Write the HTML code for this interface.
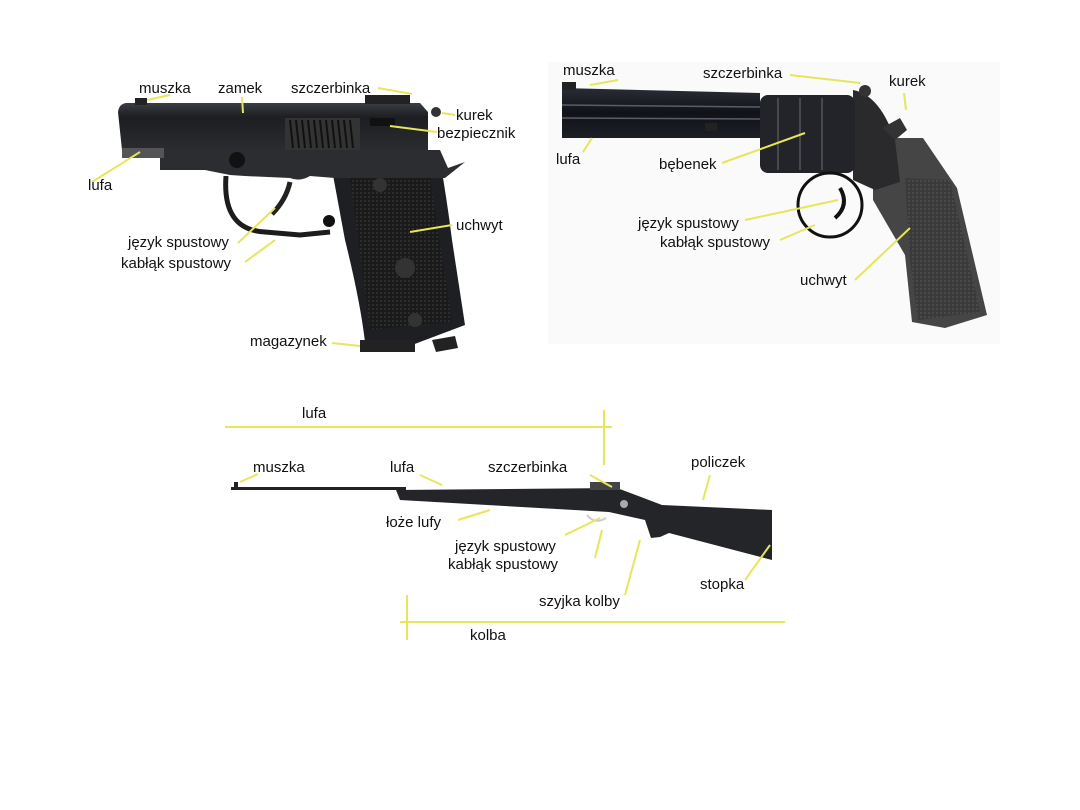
<!DOCTYPE html>
<html><head><meta charset="utf-8"><style>
html,body{margin:0;padding:0;background:#fff;}
svg{display:block}
text{font-family:"Liberation Sans",sans-serif;font-size:15px;fill:#111;}
</style></head><body>
<svg width="1080" height="810" viewBox="0 0 1080 810" xmlns="http://www.w3.org/2000/svg">
<defs>
<linearGradient id="metal" x1="0" y1="0" x2="0" y2="1">
<stop offset="0" stop-color="#3a3d42"/><stop offset="0.3" stop-color="#1c1e22"/><stop offset="1" stop-color="#2a2c30"/></linearGradient>
<linearGradient id="barrel" x1="0" y1="0" x2="0" y2="1">
<stop offset="0" stop-color="#2a2d35"/><stop offset="0.5" stop-color="#101218"/><stop offset="1" stop-color="#1c1f26"/></linearGradient>
<pattern id="chk" width="4" height="4" patternUnits="userSpaceOnUse"><rect width="4" height="4" fill="#1a1a1a"/><rect width="2" height="2" fill="#2c2c2c"/></pattern>
<pattern id="chk2" width="4" height="4" patternUnits="userSpaceOnUse"><rect width="4" height="4" fill="#3a3a3a"/><rect width="2" height="2" fill="#4a4a4a"/></pattern>
</defs>
<rect x="548" y="62" width="452" height="282" fill="#fafafa"/>

<!-- PISTOL -->
<g>
<path d="M335,160 L440,160 Q447,200 452,240 L465,325 L412,345 L365,342 Q360,300 345,240 L333,175 Z" fill="#1e1f22"/>
<path d="M350,178 L430,178 L452,322 L370,330 Z" fill="url(#chk)"/>
<path d="M160,150 L440,150 L448,168 L465,162 L445,178 L335,178 L310,176 Q300,182 290,178 L245,176 L230,175 L205,170 L160,170 Z" fill="#2b2d30"/>
<path d="M126,103 L420,103 L428,112 L428,150 L122,150 L118,112 Q119,104 126,103 Z" fill="url(#metal)"/>
<rect x="122" y="148" width="42" height="10" fill="#555"/>
<rect x="285" y="118" width="75" height="32" fill="#333"/>
<g stroke="#111" stroke-width="2"><line x1="290" y1="120" x2="293" y2="148"/><line x1="296" y1="120" x2="299" y2="148"/><line x1="302" y1="120" x2="305" y2="148"/><line x1="308" y1="120" x2="311" y2="148"/><line x1="314" y1="120" x2="317" y2="148"/><line x1="320" y1="120" x2="323" y2="148"/><line x1="326" y1="120" x2="329" y2="148"/><line x1="332" y1="120" x2="335" y2="148"/><line x1="338" y1="120" x2="341" y2="148"/><line x1="344" y1="120" x2="347" y2="148"/><line x1="350" y1="120" x2="353" y2="148"/></g>
<path d="M226,176 Q222,230 265,232 L300,235 L330,232" stroke="#1c1c1c" stroke-width="5" fill="none"/>
<path d="M290,182 Q286,200 272,214" stroke="#222" stroke-width="5" fill="none"/>
<circle cx="237" cy="160" r="8" fill="#111"/>
<circle cx="329" cy="221" r="6" fill="#111"/>
<circle cx="380" cy="185" r="7" fill="#333"/>
<circle cx="405" cy="268" r="10" fill="#333"/>
<circle cx="415" cy="320" r="7" fill="#333"/>
<rect x="360" y="340" width="55" height="12" fill="#222"/>
<path d="M432,340 L455,336 L458,348 L436,352 Z" fill="#222"/>
<rect x="135" y="98" width="12" height="7" fill="#222"/>
<rect x="365" y="95" width="45" height="9" fill="#222"/>
<rect x="370" y="118" width="25" height="8" fill="#111"/>
<circle cx="436" cy="112" r="5" fill="#333"/>
</g>
<g stroke="#e6e65a" stroke-width="2" fill="none">
<line x1="147" y1="100" x2="170" y2="95"/>
<line x1="242" y1="97" x2="243" y2="113"/>
<line x1="378" y1="88" x2="412" y2="94"/>
<line x1="442" y1="113" x2="455" y2="115"/>
<line x1="390" y1="126" x2="437" y2="132"/>
<line x1="92" y1="182" x2="140" y2="152"/>
<line x1="238" y1="243" x2="275" y2="208"/>
<line x1="245" y1="262" x2="275" y2="240"/>
<line x1="410" y1="232" x2="452" y2="225"/>
<line x1="332" y1="343" x2="360" y2="346"/>
</g>
<text x="139" y="93">muszka</text>
<text x="218" y="93">zamek</text>
<text x="291" y="93">szczerbinka</text>
<text x="456" y="120">kurek</text>
<text x="437" y="138">bezpiecznik</text>
<text x="88" y="190">lufa</text>
<text x="128" y="247">język spustowy</text>
<text x="121" y="268">kabłąk spustowy</text>
<text x="456" y="230">uchwyt</text>
<text x="250" y="346">magazynek</text>

<!-- REVOLVER -->
<g>
<path d="M873,138 L923,138 L957,188 L987,315 L945,328 L912,322 L905,255 L873,200 Z" fill="#454545"/>
<path d="M905,178 L950,180 L980,312 L918,320 L910,260 Z" fill="url(#chk2)"/>
<path d="M853,90 Q880,95 895,140 L900,182 L875,190 L853,180 Z" fill="#2a2a2d"/>
<rect x="760" y="95" width="95" height="78" rx="8" fill="#22242a"/>
<g stroke="#555" stroke-width="1.5"><line x1="778" y1="98" x2="778" y2="170"/><line x1="800" y1="98" x2="800" y2="170"/><line x1="822" y1="98" x2="822" y2="170"/></g>
<path d="M562,88 L760,93 L760,138 L562,138 Z" fill="url(#barrel)"/>
<g stroke="#5a5d68" stroke-width="1.5"><line x1="562" y1="105" x2="760" y2="107"/><line x1="562" y1="118" x2="760" y2="119"/></g>
<rect x="562" y="82" width="14" height="8" fill="#222"/>
<circle cx="865" cy="91" r="6" fill="#333"/>
<path d="M882,128 L900,118 L907,130 L895,140 Z" fill="#333"/>
<circle cx="830" cy="205" r="32" fill="none" stroke="#111" stroke-width="3"/>
<path d="M840,188 Q850,205 835,218" stroke="#111" stroke-width="4" fill="none"/>
<rect x="705" y="123" width="12" height="8" fill="#222"/>
</g>
<g stroke="#e6e65a" stroke-width="2" fill="none">
<line x1="590" y1="85" x2="618" y2="80"/>
<line x1="790" y1="75" x2="860" y2="83"/>
<line x1="904" y1="93" x2="906" y2="110"/>
<line x1="583" y1="152" x2="592" y2="138"/>
<line x1="722" y1="163" x2="805" y2="133"/>
<line x1="745" y1="220" x2="838" y2="200"/>
<line x1="780" y1="240" x2="815" y2="225"/>
<line x1="855" y1="280" x2="910" y2="228"/>
</g>
<text x="563" y="75">muszka</text>
<text x="703" y="78">szczerbinka</text>
<text x="889" y="86">kurek</text>
<text x="556" y="164">lufa</text>
<text x="659" y="169">bębenek</text>
<text x="638" y="228">język spustowy</text>
<text x="660" y="247">kabłąk spustowy</text>
<text x="800" y="285">uchwyt</text>

<!-- RIFLE -->
<g>
<rect x="231" y="487" width="175" height="3" fill="#222"/>
<rect x="234" y="482" width="4" height="5" fill="#222"/>
<path d="M396,490 L617,488 L662,505 L772,510 L772,560 L669,533 L660,537 L651,538 L645,520 L609,512 L400,500 Z" fill="#232528"/>
<rect x="590" y="482" width="30" height="8" fill="#444"/>
<circle cx="624" cy="504" r="4" fill="#aaa"/>
<path d="M587,515 Q595,525 606,518" stroke="#ccc" stroke-width="2" fill="none"/>
</g>
<g stroke="#e6e65a" stroke-width="2" fill="none">
<line x1="225" y1="427" x2="612" y2="427"/>
<line x1="604" y1="410" x2="604" y2="465"/>
<line x1="400" y1="622" x2="785" y2="622"/>
<line x1="407" y1="595" x2="407" y2="640"/>
<line x1="240" y1="482" x2="258" y2="474"/>
<line x1="420" y1="475" x2="442" y2="485"/>
<line x1="590" y1="475" x2="612" y2="487"/>
<line x1="710" y1="475" x2="703" y2="500"/>
<line x1="458" y1="520" x2="490" y2="510"/>
<line x1="565" y1="535" x2="600" y2="518"/>
<line x1="595" y1="558" x2="602" y2="530"/>
<line x1="625" y1="595" x2="640" y2="540"/>
<line x1="745" y1="580" x2="770" y2="545"/>
</g>
<text x="302" y="418">lufa</text>
<text x="253" y="472">muszka</text>
<text x="390" y="472">lufa</text>
<text x="488" y="472">szczerbinka</text>
<text x="691" y="467">policzek</text>
<text x="386" y="527">łoże lufy</text>
<text x="455" y="551">język spustowy</text>
<text x="448" y="569">kabłąk spustowy</text>
<text x="539" y="606">szyjka kolby</text>
<text x="700" y="589">stopka</text>
<text x="470" y="640">kolba</text>
</svg>
</body></html>
